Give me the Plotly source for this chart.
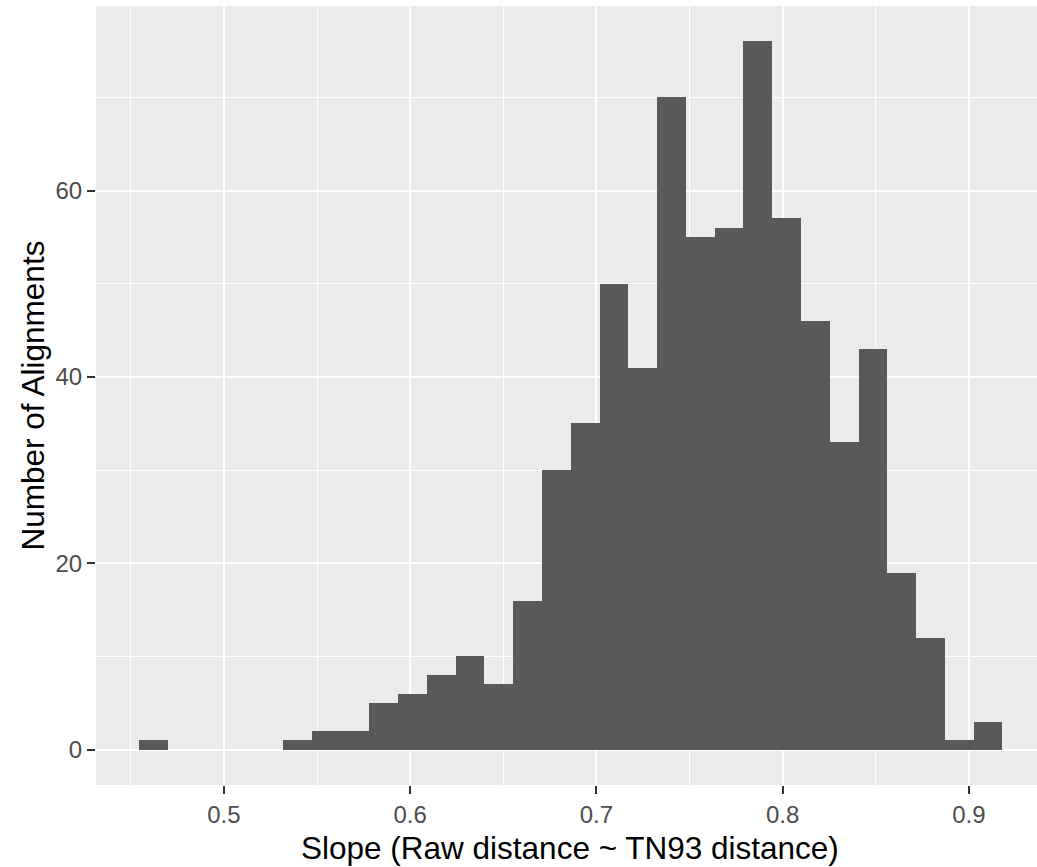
import plotly.graph_objects as go

# Histogram of regression slopes: 30 equal-width bins
bin_start = 0.4545
bin_width = 0.01545
counts = [1, 0, 0, 0, 0, 1, 2, 2, 5, 6, 8, 10, 7, 16, 30,
          35, 50, 41, 70, 55, 56, 76, 57, 46, 33, 43, 19, 12, 1, 3]

x_tick_vals = [0.5, 0.6, 0.7, 0.8, 0.9]
x_tick_text = ["0.5", "0.6", "0.7", "0.8", "0.9"]
y_tick_vals = [0, 20, 40, 60]
y_tick_text = ["0", "20", "40", "60"]

x_title = "Slope (Raw distance ~ TN93 distance)"
y_title = "Number of Alignments"

centers = [bin_start + bin_width * (i + 0.5) for i in range(len(counts))]

fig = go.Figure(
    go.Bar(
        x=centers,
        y=counts,
        width=bin_width,
        marker=dict(color="#595959", line=dict(width=0)),
        hovertemplate="%{x:.3f}: %{y}<extra></extra>",
    )
)

font_family = "Liberation Sans, Arial, sans-serif"
tick_font = dict(size=24, color="#4D4D4D", family=font_family)
title_font = dict(size=31.5, color="black", family=font_family)

axis_common = dict(
    ticks="outside",
    ticklen=8,
    tickwidth=2,
    tickcolor="#333333",
    tickfont=tick_font,
    showgrid=True,
    gridcolor="white",
    gridwidth=2,
    zeroline=False,
    showline=False,
    automargin=False,
)

fig.update_layout(
    width=1037,
    height=867,
    margin=dict(l=96, r=0, t=6, b=82),
    paper_bgcolor="white",
    plot_bgcolor="#EBEBEB",
    bargap=0,
    showlegend=False,
    font=dict(family=font_family),
    xaxis=dict(
        range=[0.4313, 0.9366],
        tickvals=x_tick_vals,
        ticktext=x_tick_text,
        minor=dict(tick0=0.45, dtick=0.1, showgrid=True,
                   gridcolor="white", gridwidth=1),
        **axis_common,
    ),
    yaxis=dict(
        range=[-3.8, 79.8],
        tickvals=y_tick_vals,
        ticktext=y_tick_text,
        minor=dict(tick0=10, dtick=20, showgrid=True,
                   gridcolor="white", gridwidth=1),
        **axis_common,
    ),
    annotations=[
        dict(text=x_title, xref="paper", yref="paper", x=0.5037, y=0,
             xanchor="center", yanchor="middle", yshift=-63,
             showarrow=False, font=title_font),
        dict(text=y_title, xref="paper", yref="paper", x=0, y=0.5,
             xanchor="center", yanchor="middle", xshift=-64,
             textangle=-90, showarrow=False, font=title_font),
    ],
)

fig.write_html("out.html")
